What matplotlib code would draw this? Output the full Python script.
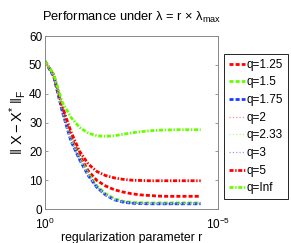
import numpy as np
import matplotlib
matplotlib.use("Agg")
import matplotlib.pyplot as plt

plt.rcParams['font.family'] = ['Liberation Sans', 'DejaVu Sans']
plt.rcParams['mathtext.fontset'] = 'custom'
plt.rcParams['mathtext.rm'] = 'Liberation Sans'
plt.rcParams['mathtext.it'] = 'Liberation Sans:italic'
plt.rcParams['mathtext.bf'] = 'Liberation Sans:bold'

# regularization parameter r = 10^(-exponent)
exponents = [0, 0.25, 0.5, 0.75, 1.0, 1.25, 1.5, 1.75, 2.0, 2.25, 2.5, 2.75,
             3.0, 3.25, 3.5, 3.75, 4.0, 4.25, 4.5]

q_labels = ['q=1.25', 'q=1.5', 'q=1.75', 'q=2', 'q=2.33', 'q=3', 'q=5', 'q=Inf']

err_q125 = [51.2, 46.4, 34.8, 25.0, 18.6, 13.2, 9.9, 8.0, 6.7, 5.9, 5.3, 4.9,
            4.7, 4.5, 4.4, 4.4, 4.4, 4.4, 4.4]
err_q15 = [51.2, 46.3, 34.3, 24.2, 17.7, 12.2, 8.0, 5.3, 3.6, 2.7, 2.3, 2.2,
           2.1, 2.1, 2.1, 2.1, 2.1, 2.1, 2.1]
err_q175 = [51.2, 46.0, 33.8, 23.6, 17.1, 11.6, 7.5, 4.9, 3.2, 2.4, 2.0, 1.9,
            1.8, 1.8, 1.8, 1.8, 1.8, 1.8, 1.8]
err_q2 = [51.2, 46.1, 34.0, 23.9, 17.4, 11.9, 7.8, 5.1, 3.4, 2.5, 2.1, 2.0,
          1.9, 1.9, 1.9, 1.9, 1.9, 1.9, 1.9]
err_q233 = [51.2, 46.0, 33.9, 23.7, 17.2, 11.7, 7.6, 5.0, 3.3, 2.4, 2.0, 1.9,
            1.9, 1.9, 1.9, 1.9, 1.9, 1.9, 1.9]
err_q3 = [51.2, 45.9, 33.7, 23.5, 17.0, 11.5, 7.4, 4.8, 3.2, 2.4, 2.0, 1.9,
          1.8, 1.8, 1.8, 1.8, 1.8, 1.8, 1.8]
err_q5 = [51.2, 46.6, 35.6, 26.8, 20.0, 15.6, 13.0, 11.6, 10.8, 10.3, 10.0, 9.9,
          9.8, 9.8, 9.8, 9.8, 9.8, 9.8, 9.8]
err_qinf = [51.2, 46.8, 37.0, 31.8, 28.3, 26.3, 25.4, 25.2, 25.4, 25.9, 26.4, 26.8,
            27.1, 27.3, 27.4, 27.5, 27.5, 27.5, 27.5]

series = [err_q125, err_q15, err_q175, err_q2, err_q233, err_q3, err_q5, err_qinf]

red, green, blue = '#ff0000', '#66ff00', '#1a3cff'
dash = (1.45, 0.75)
dashdot = (1.45, 0.6, 0.5, 0.6)
styles = [
    dict(color=red, lw=2.0, dashes=dash),
    dict(color=green, lw=2.0, dashes=dash),
    dict(color=blue, lw=2.0, dashes=dash),
    dict(color='#ff8c8c', lw=0.9, linestyle=':'),
    dict(color='#a6ff80', lw=0.9, linestyle=':'),
    dict(color='#8c9cff', lw=0.9, linestyle=':'),
    dict(color=red, lw=2.0, dashes=dashdot),
    dict(color=green, lw=2.0, dashes=dashdot),
]

r = 10.0 ** (-np.array(exponents))

fig = plt.figure(figsize=(2.91, 2.43), dpi=100)
ax = fig.add_axes([45/291, 1 - 209/243, 173/291, 173/243])

for vals, lab, st in zip(series, q_labels, styles):
    ax.plot(r, vals, label=lab, **st)

ax.set_xscale('log')
ax.set_xlim(1e0, 1e-5)
ax.set_ylim(0, 60)
ax.set_xticks([1e0, 1e-5])
ax.set_xticklabels(['$10^{0}$', '$10^{-5}$'])
ax.minorticks_off()
ax.set_yticks([0, 10, 20, 30, 40, 50, 60])
ax.tick_params(direction='in', length=2.5, width=0.6, color='#888888',
               labelsize=8.5, top=True, right=True, pad=2)
ax.tick_params(axis='x', pad=5.5)
for s in ax.spines.values():
    s.set_color('#888888')
    s.set_linewidth(0.7)

ax.set_xlabel('regularization parameter r', fontsize=8.8, labelpad=0)
ax.set_ylabel(r'$\|\ \mathrm{X} - \mathrm{X}^{*}\ \|_{\mathrm{F}}$', fontsize=10.5, labelpad=1)
ax.set_title(r'Performance under λ = r × λ$_{\mathrm{max}}$', fontsize=9.3, pad=11)

leg = fig.legend(loc='upper left', bbox_to_anchor=(224/291, 1 - 54/243),
                 fontsize=8.5, frameon=True, fancybox=False, framealpha=1,
                 edgecolor='black', handlelength=1.4, handletextpad=0.1,
                 labelspacing=0.48, borderpad=0.4, borderaxespad=0)
leg.get_frame().set_linewidth(0.6)

fig.savefig('out.png', dpi=100)
